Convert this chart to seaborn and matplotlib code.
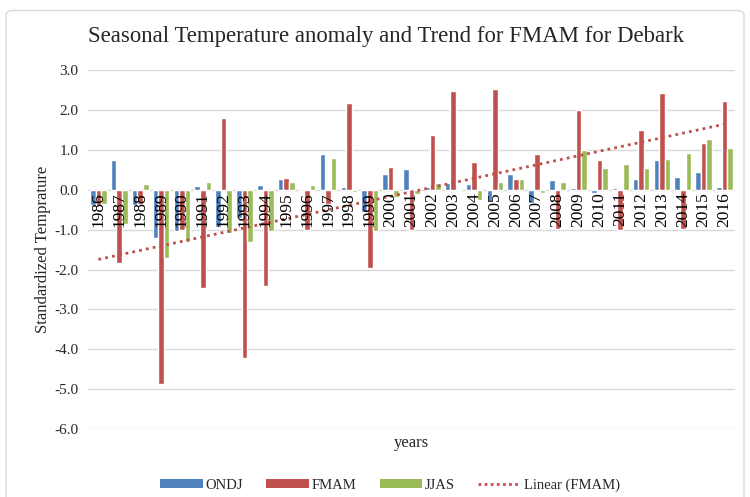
import numpy as np
import pandas as pd
import matplotlib
matplotlib.use("Agg")
import matplotlib.pyplot as plt
import seaborn as sns
from matplotlib.patches import Patch, FancyBboxPatch
from matplotlib.lines import Line2D

years = [str(y) for y in range(1986, 2017)]
ondj = [-0.39, 0.76, -0.37, -1.21, -1.02, 0.10, -0.92, -0.70, 0.13, 0.27,
        -0.02, 0.89, 0.08, -0.55, 0.40, 0.53, 0.08, 0.18, 0.15, -0.31,
        0.40, -0.33, 0.25, 0.05, -0.09, 0.05, 0.26, 0.76, 0.31, 0.46, 0.07]
fmam = [-0.37, -1.84, -0.35, -4.87, -1.00, -2.47, 1.81, -4.22, -2.42, 0.30,
        -1.00, -0.35, 2.17, -1.95, 0.58, -1.00, 1.38, 2.49, 0.71, 2.52,
        0.28, 0.90, -0.97, 2.01, 0.76, -1.00, 1.50, 2.44, -0.98, 1.18, 2.24]
jjas = [-0.35, -0.85, 0.15, -1.70, -1.30, 0.20, -1.07, -1.32, -1.02, 0.20,
        0.12, 0.80, -0.05, -1.04, -0.18, -0.10, 0.18, 0.00, -0.25, 0.20,
        0.26, -0.08, 0.20, 0.99, 0.55, 0.64, 0.54, 0.78, 0.92, 1.28, 1.05]
series = ["ONDJ", "FMAM", "JJAS"]
colors = ["#4F81BD", "#C0504D", "#9BBB59"]
yticks = [3.0, 2.0, 1.0, 0.0, -1.0, -2.0, -3.0, -4.0, -5.0, -6.0]

df = pd.DataFrame({
    "year": years * 3,
    "season": ["ONDJ"] * len(years) + ["FMAM"] * len(years) + ["JJAS"] * len(years),
    "value": ondj + fmam + jjas,
})

sns.set_theme(style="white")
plt.rcParams["font.family"] = ["Liberation Serif", "DejaVu Serif"]

fig = plt.figure(figsize=(7.5, 4.97), dpi=100)
ax = fig.add_axes([0.1173, 0.1368, 0.8627, 0.7218])

sns.barplot(data=df, x="year", y="value", hue="season", hue_order=series,
            palette=colors, order=years, ax=ax, legend=False, width=0.8,
            saturation=1, errorbar=None)

# Linear trend for FMAM
xi = np.arange(len(years))
coef = np.polyfit(xi, fmam, 1)
ax.plot(xi, np.polyval(coef, xi), linestyle=(0, (1, 1.5)), color="#C0504D",
        linewidth=2.0)

ax.set_ylim(-6, 3)
ax.set_xlim(-0.5, len(years) - 0.5)
ax.set_yticks(yticks)
ax.set_yticklabels([f"{v:.1f}" for v in yticks], fontsize=11)
ax.yaxis.grid(True, color="#D9D9D9", linewidth=1.0)
ax.set_axisbelow(True)
for s in ax.spines.values():
    s.set_visible(False)
ax.tick_params(axis="y", length=0, pad=7)
ax.set_xticks([])
ax.set_xlabel("years", fontsize=12, labelpad=4)
ax.set_ylabel("Standardized Temprature", fontsize=12, labelpad=2)

for i, y in enumerate(years):
    ax.text(i, -0.06, y, rotation=90, ha="center", va="top", fontsize=12.5,
            color="black")

fig.text(0.514, 0.926, "Seasonal Temperature anomaly and Trend for FMAM for Debark",
         ha="center", va="center", fontsize=16.4)

handles = [Patch(facecolor=c, edgecolor="none") for c in colors]
handles.append(Line2D([0], [0], color="#C0504D", linestyle=(0, (1, 1.2)), linewidth=2))
fig.legend(handles, series + ["Linear (FMAM)"], loc="center",
           bbox_to_anchor=(0.52, 0.024), ncol=4, frameon=False, fontsize=10.5,
           handlelength=2.9, handleheight=0.55, columnspacing=1.6, handletextpad=0.2)

border = FancyBboxPatch((0.008, -0.02), 0.984, 0.999, boxstyle="round,pad=0,rounding_size=0.01",
                        transform=fig.transFigure, facecolor="none",
                        edgecolor="#D9D9D9", linewidth=1.0)
fig.patches.append(border)

fig.savefig("out.png", dpi=100)
